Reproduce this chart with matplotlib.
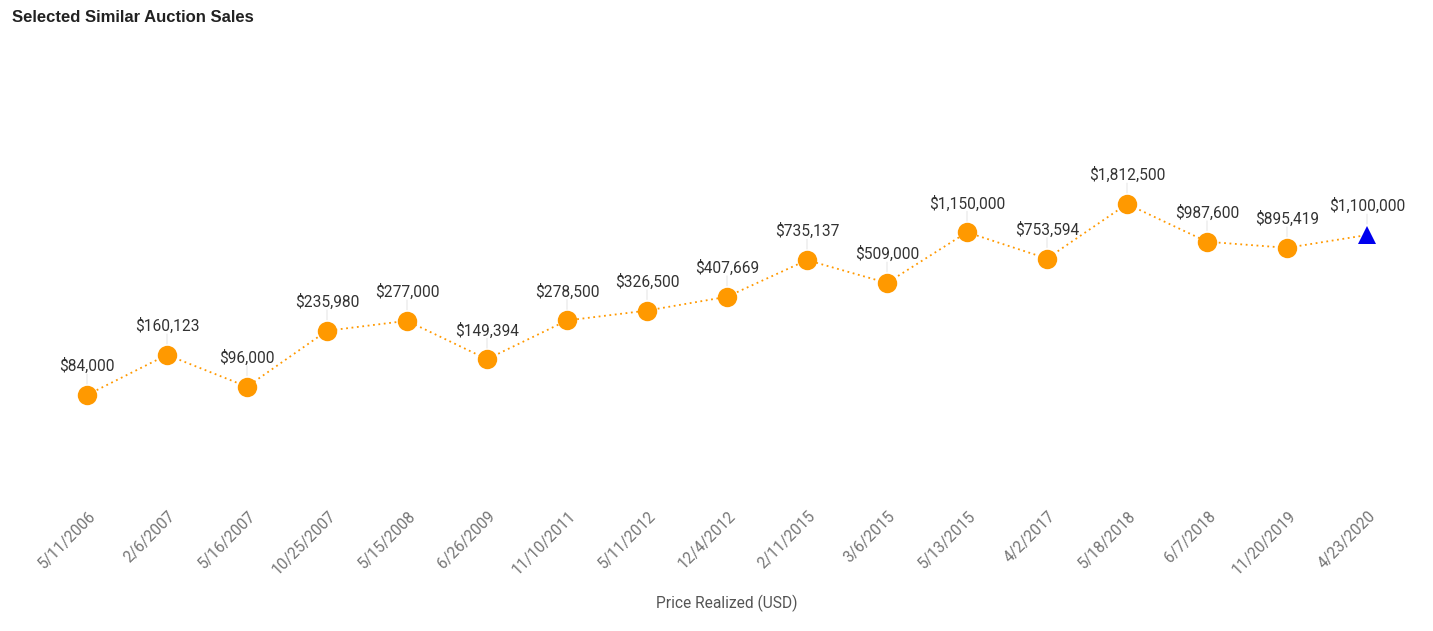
import matplotlib
matplotlib.use("Agg")
import matplotlib.pyplot as plt
import matplotlib.transforms as mtransforms
import numpy as np

dates = ["5/11/2006", "2/6/2007", "5/16/2007", "10/25/2007", "5/15/2008", "6/26/2009",
         "11/10/2011", "5/11/2012", "12/4/2012", "2/11/2015", "3/6/2015", "5/13/2015",
         "4/2/2017", "5/18/2018", "6/7/2018", "11/20/2019", "4/23/2020"]
prices = [84000, 160123, 96000, 235980, 277000, 149394, 278500, 326500, 407669,
          735137, 509000, 1150000, 753594, 1812500, 987600, 895419, 1100000]
title = "Selected Similar Auction Sales"
xlabel = "Price Realized (USD)"

W, H = 1433, 631
fig = plt.figure(figsize=(W / 100, H / 100), dpi=100)
ax = fig.add_axes([47 / W, 1 - 500 / H, 1360 / W, 460 / H])
ax.set_yscale("log")
y0 = np.log10(84000) - (500 - 395) / 143.2
y1 = np.log10(84000) + (395 - 40) / 143.2
ax.set_ylim(10 ** y0, 10 ** y1)
ax.set_xlim(-0.5, len(dates) - 0.5)

x = np.arange(len(dates))
orange = "#FF9900"
ax.plot(x, prices, linestyle=(0, (1, 2)), color=orange, lw=1.3, zorder=2)
ax.plot(x[:-1], prices[:-1], "o", color=orange, markersize=14, markeredgewidth=0, zorder=3)
ax.plot(x[-1:], prices[-1:], "^", color="#0000EE", markersize=13, markeredgewidth=0, zorder=3)

for xi, p in zip(x, prices):
    ax.annotate("", xy=(xi, p), xytext=(0, 15), textcoords="offset points",
                arrowprops=dict(arrowstyle="-", color="#e6e6e6", lw=0.8, shrinkA=0, shrinkB=8),
                zorder=1)
    ax.annotate(f"${p:,.0f}", xy=(xi, p), xytext=(0, 15), textcoords="offset points",
                ha="center", va="bottom", fontsize=11.2, color="#333333",
                family=["Roboto", "DejaVu Sans"])

for s in ax.spines.values():
    s.set_visible(False)
ax.set_yticks([])
ax.yaxis.set_minor_locator(matplotlib.ticker.NullLocator())
ax.set_xticks(x)
ax.set_xticklabels(dates, rotation=45, ha="right", va="center", rotation_mode="anchor",
                   fontsize=11.2, color="#757575", family=["Roboto", "DejaVu Sans"])
ax.tick_params(axis="x", length=0, pad=10)
offset = mtransforms.ScaledTranslation(6 / 100, 0, fig.dpi_scale_trans)
for lbl in ax.get_xticklabels():
    lbl.set_transform(lbl.get_transform() + offset)

fig.text(727 / W, 1 - 603 / H, xlabel, ha="center", va="center", fontsize=11.2,
         color="#555555", family=["Roboto", "DejaVu Sans"])
fig.text(12 / W, 1 - 17 / H, title, ha="left", va="center", fontsize=12,
         fontweight="bold", color="#222222", family=["Liberation Sans", "DejaVu Sans"])

fig.savefig("out.png", dpi=100)
